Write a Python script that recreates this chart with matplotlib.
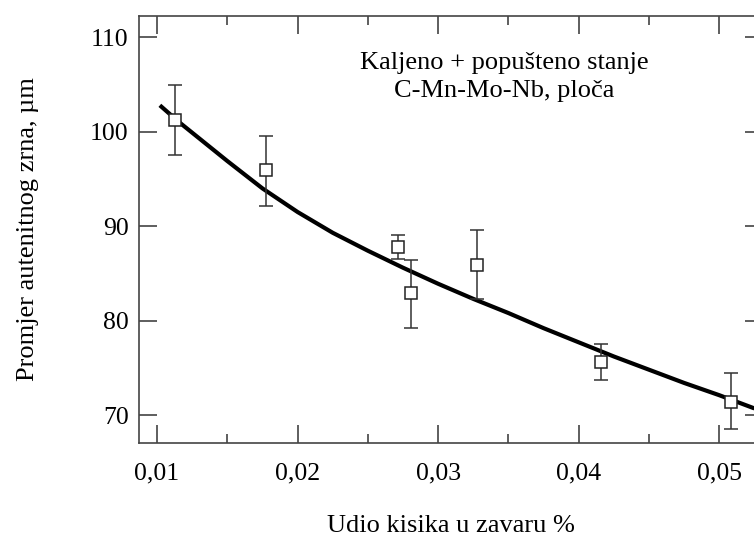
import matplotlib
matplotlib.use("Agg")
import matplotlib.pyplot as plt
from matplotlib.ticker import MultipleLocator, FuncFormatter

plt.rcParams['font.family'] = ['Liberation Serif', 'DejaVu Serif']

# measured points
x_pts = [0.01129, 0.01778, 0.02717, 0.02805, 0.03276, 0.04156, 0.05083]
y_pts = [101.2, 95.9, 87.8, 82.9, 85.9, 75.6, 71.4]
y_err_hi = [105.0, 99.6, 89.1, 86.4, 89.6, 77.5, 74.5]
y_err_lo = [97.5, 92.1, 86.5, 79.2, 82.3, 73.7, 68.5]

# fitted curve
x_fit = [0.0102, 0.0115, 0.0130, 0.0150, 0.0175, 0.0200, 0.0225, 0.0250, 0.0275,
         0.0300, 0.0325, 0.0350, 0.0375, 0.0400, 0.0425, 0.0450, 0.0475, 0.0500, 0.0525]
y_fit = [102.8, 101.1, 99.3, 96.9, 94.0, 91.5, 89.3, 87.4, 85.6,
         83.9, 82.3, 80.8, 79.2, 77.7, 76.2, 74.8, 73.4, 72.1, 70.7]

x_ticks = [0.01, 0.02, 0.03, 0.04, 0.05]
y_ticks = [70, 80, 90, 100, 110]

W, H = 754, 538
fig = plt.figure(figsize=(W / 100, H / 100), dpi=100)
ax = fig.add_axes([138.5 / W, (H - 442.7) / H, (763 - 138.5) / W, (442.7 - 16) / H])

ax.plot(x_fit, y_fit, color='black', lw=3.0, solid_capstyle='butt',
        solid_joinstyle='round', zorder=3)

yerr = [[y - lo for y, lo in zip(y_pts, y_err_lo)], [hi - y for y, hi in zip(y_pts, y_err_hi)]]
ax.errorbar(x_pts, y_pts, yerr=yerr, fmt='s', ms=8.5, mfc='white', mec='#222222', mew=1.1,
            ecolor='#333333', elinewidth=1.1, capsize=5.3, capthick=1.1, zorder=4)

ax.set_xlim(0.00868, 0.05311)
ax.set_ylim(67.07, 112.26)
ax.set_xticks(x_ticks)
ax.set_yticks(y_ticks)
ax.xaxis.set_minor_locator(MultipleLocator(0.005))
ax.xaxis.set_major_formatter(FuncFormatter(lambda v, p: f"{v:.2f}".replace('.', ',')))

for s in ax.spines.values():
    s.set_color('#444444')
    s.set_linewidth(1.2)

ax.tick_params(axis='both', which='major', direction='in', length=13, width=1.1,
               color='#333333', labelsize=18.5, top=True, right=True)
ax.tick_params(axis='x', which='minor', direction='in', length=6.5, width=1.1,
               color='#333333', top=True, bottom=True)
ax.tick_params(axis='x', which='major', pad=14.5)
ax.tick_params(axis='y', which='major', pad=7)

ax.set_xlabel('Udio kisika u zavaru %', fontsize=19, labelpad=21.5)
ax.set_ylabel('Promjer autenitnog zrna, µm', fontsize=19, labelpad=37)

ax.text(0.585, 0.857, 'Kaljeno + popušteno stanje\nC-Mn-Mo-Nb, ploča', transform=ax.transAxes,
        ha='center', va='center', fontsize=19, linespacing=1.35)

fig.savefig('out.png', dpi=100)
